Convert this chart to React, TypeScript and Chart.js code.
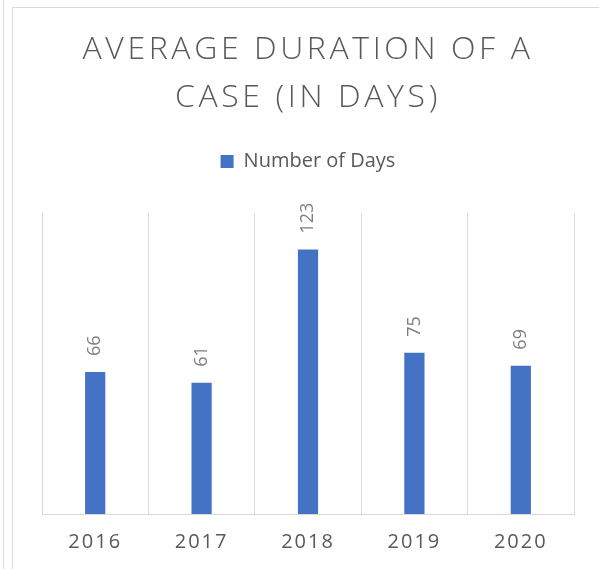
import React, { useEffect, useRef } from 'react';
import { Chart, registerables } from 'chart.js';

Chart.register(...registerables);

const categories = ['2016', '2017', '2018', '2019', '2020'];
const seriesName = 'Number of Days';
const days = [66, 61, 123, 75, 69];
const titleLines = ['AVERAGE DURATION OF A', 'CASE (IN DAYS)'];
const yMin = 0;
const yMax = 140;

const FONT = "'Open Sans', 'DejaVu Sans', sans-serif";

const letterSpacingPlugin = {
  id: 'letterSpacing',
  beforeDraw(chart: any) {
    const ctx = chart.ctx;
    const wrap = (obj: any, method: string, spacing: string) => {
      if (!obj || obj['__ls_' + method]) return;
      const orig = obj[method];
      obj[method] = function (...args: any[]) {
        const prev = ctx.letterSpacing;
        ctx.letterSpacing = spacing;
        try {
          return orig.apply(this, args);
        } finally {
          ctx.letterSpacing = prev;
        }
      };
      obj['__ls_' + method] = true;
    };
    wrap(chart.titleBlock, 'draw', '3.6px');
    wrap(chart.scales.x, 'drawLabels', '2px');
  },
};

const barLabelPlugin = {
  id: 'barLabels',
  afterDatasetsDraw(chart: any) {
    const ctx = chart.ctx;
    const meta = chart.getDatasetMeta(0);
    const data = chart.data.datasets[0].data;
    ctx.save();
    ctx.font = `normal 18px ${FONT}`;
    ctx.fillStyle = '#7f7f7f';
    ctx.textAlign = 'left';
    ctx.textBaseline = 'middle';
    meta.data.forEach((bar: any, i: number) => {
      ctx.save();
      ctx.translate(bar.x, bar.y - 16);
      ctx.rotate(-Math.PI / 2);
      ctx.fillText(String(data[i]), 0, 0);
      ctx.restore();
    });
    ctx.restore();
  },
};

export default function App() {
  const ref = useRef<HTMLCanvasElement | null>(null);

  useEffect(() => {
    if (!ref.current) return;
    const chart = new Chart(ref.current, {
      type: 'bar',
      data: {
        labels: categories,
        datasets: [
          {
            label: seriesName,
            data: days,
            backgroundColor: '#4472C4',
            borderWidth: 0,
            barPercentage: 0.19,
            categoryPercentage: 1,
          },
        ],
      },
      options: {
        animation: false,
        responsive: false,
        layout: { padding: { left: 29, right: 25, top: 0, bottom: 0 } },
        plugins: {
          title: {
            display: true,
            text: titleLines,
            color: '#595959',
            font: { family: FONT, size: 32, weight: '300' as any, lineHeight: '48px' },
            padding: { top: 18, bottom: 19.5 },
          },
          subtitle: {
            display: true,
            text: '',
            weight: 500,
            padding: 0,
            font: { size: 10, lineHeight: '31.5px' },
          },
          legend: {
            display: true,
            position: 'top',
            fullSize: false,
            labels: {
              color: '#595959',
              font: { family: FONT, size: 20 },
              boxWidth: 13,
              boxHeight: 13,
              padding: 10,
            },
          },
          tooltip: { enabled: false },
        },
        scales: {
          x: {
            grid: { color: '#d9d9d9', drawTicks: false, offset: true },
            border: { color: '#d9d9d9' },
            ticks: {
              color: '#595959',
              font: { family: FONT, size: 20, lineHeight: 1.2 },
              padding: 16,
            },
          },
          y: { display: false, min: yMin, max: yMax },
        },
      },
      plugins: [letterSpacingPlugin, barLabelPlugin],
    });
    return () => chart.destroy();
  }, []);

  return (
    <div
      style={{
        position: 'absolute',
        left: 0,
        top: 0,
        width: 599,
        height: 569,
        overflow: 'hidden',
        background: '#ffffff',
      }}
    >
      <div style={{ position: 'absolute', left: 3, top: 0, width: 1, height: 569, background: '#d9d9d9' }} />
      <div
        style={{
          position: 'absolute',
          left: 12,
          top: 7,
          width: 700,
          height: 700,
          borderTop: '1px solid #d9d9d9',
          borderLeft: '1px solid #d9d9d9',
          boxSizing: 'border-box',
        }}
      >
        <canvas ref={ref} width={586} height={562} style={{ position: 'absolute', left: 0, top: 0, display: 'block' }} />
      </div>
    </div>
  );
}
